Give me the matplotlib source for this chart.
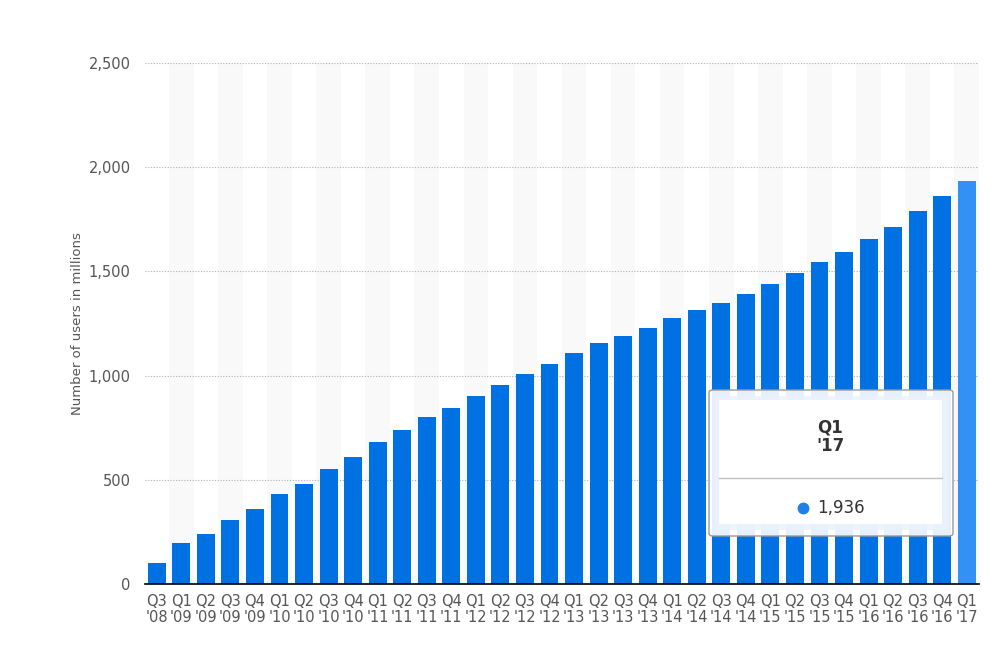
import numpy as np
import matplotlib
matplotlib.use("Agg")
import matplotlib.pyplot as plt
from matplotlib.patches import FancyBboxPatch, Rectangle

# quarters and monthly active users (millions)
quarters = ["Q3\n'08", "Q1\n'09", "Q2\n'09", "Q3\n'09", "Q4\n'09",
            "Q1\n'10", "Q2\n'10", "Q3\n'10", "Q4\n'10",
            "Q1\n'11", "Q2\n'11", "Q3\n'11", "Q4\n'11",
            "Q1\n'12", "Q2\n'12", "Q3\n'12", "Q4\n'12",
            "Q1\n'13", "Q2\n'13", "Q3\n'13", "Q4\n'13",
            "Q1\n'14", "Q2\n'14", "Q3\n'14", "Q4\n'14",
            "Q1\n'15", "Q2\n'15", "Q3\n'15", "Q4\n'15",
            "Q1\n'16", "Q2\n'16", "Q3\n'16", "Q4\n'16",
            "Q1\n'17"]
users = [100, 197, 242, 305, 360, 431, 482, 550, 608, 680, 739, 800, 845,
         901, 955, 1007, 1056, 1110, 1155, 1189, 1228, 1276, 1317, 1350,
         1393, 1441, 1490, 1545, 1591, 1654, 1712, 1788, 1860, 1936]
yticks = [0, 500, 1000, 1500, 2000, 2500]
ytick_labels = ["0", "500", "1,000", "1,500", "2,000", "2,500"]
tip_title = "Q1\n'17"
tip_value = "1,936"

plt.rcParams['font.family'] = ['DejaVu Sans']

fig = plt.figure(figsize=(10, 6.56), dpi=100)
ax = fig.add_axes([0.1445, 1 - 584 / 656, 0.979 - 0.1445, (584 - 63) / 656])

x = np.arange(len(users))

# alternating background bands
for i in x:
    if i % 2 == 1:
        ax.axvspan(i - 0.5, i + 0.5, color='#f9f9f9', zorder=0, lw=0)

colors = ['#0071e3'] * (len(users) - 1) + ['#3391f6']
ax.bar(x, users, width=0.73, color=colors, zorder=2)

ax.set_xlim(-0.5, len(users) - 0.5)
ax.set_ylim(0, 2500)
ax.set_yticks(yticks)
ax.set_yticklabels(ytick_labels)
ax.set_xticks(x)
ax.set_xticklabels(quarters, linespacing=1.12)
ax.grid(axis='y', linestyle=(0, (1, 1.5)), color='#b0b0b0', lw=0.8, zorder=1)
ax.tick_params(axis='both', length=0, labelsize=10.5, colors='#555555')
ax.tick_params(axis='y', pad=10)
ax.tick_params(axis='x', pad=7)
for side in ['top', 'right', 'left']:
    ax.spines[side].set_visible(False)
ax.spines['bottom'].set_color('#000000')
ax.spines['bottom'].set_linewidth(1.2)
ax.spines['bottom'].set_zorder(3)
ax.set_ylabel("Number of users in millions", fontsize=9.5, color='#555555', labelpad=3)

# tooltip
W, H = 1000, 656
def fx(px):
    return px / W
def fy(py):
    return 1 - py / H

outer = FancyBboxPatch((fx(709), fy(536)), fx(953) - fx(709), fy(390) - fy(536),
                       boxstyle="round,pad=0,rounding_size=0.004",
                       transform=fig.transFigure, facecolor='white', alpha=0.9,
                       edgecolor='none', zorder=10)
fig.patches.append(outer)
outer_edge = FancyBboxPatch((fx(709), fy(536)), fx(953) - fx(709), fy(390) - fy(536),
                            boxstyle="round,pad=0,rounding_size=0.004",
                            transform=fig.transFigure, facecolor='none',
                            edgecolor='#9a9a9a', lw=1, zorder=12)
fig.patches.append(outer_edge)
border = Rectangle((fx(715), fy(530)), fx(947) - fx(715), fy(396) - fy(530),
                   transform=fig.transFigure, facecolor='#eaf2fd', edgecolor='none',
                   alpha=0.8, zorder=10.5)
fig.patches.append(border)
inner = Rectangle((fx(719), fy(524)), fx(942) - fx(719), fy(400) - fy(524),
                  transform=fig.transFigure, facecolor='white', edgecolor='none', zorder=11)
fig.patches.append(inner)
fig.add_artist(plt.Line2D([fx(719), fx(942)], [fy(478), fy(478)],
                          transform=fig.transFigure, color='#c0c0c0', lw=1, zorder=12))
fig.text(fx(830), fy(437), tip_title, ha='center', va='center', fontsize=12,
         fontweight='bold', color='#333333', linespacing=1.05, zorder=13)
fig.add_artist(plt.Line2D([fx(803)], [fy(508)], transform=fig.transFigure, marker='o',
                          markersize=7.5, color='#1f7ee8', lw=0, zorder=13))
fig.text(fx(817), fy(508), tip_value, ha='left', va='center', fontsize=12,
         color='#333333', zorder=13)

fig.savefig("out.png", dpi=100)
